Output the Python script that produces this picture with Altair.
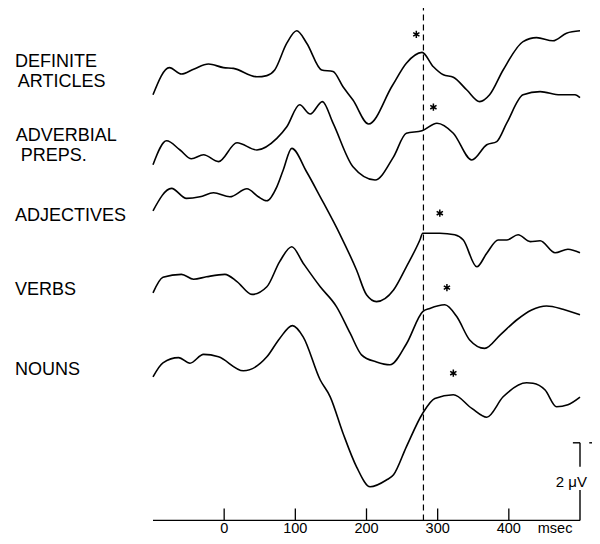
import altair as alt
import pandas as pd

# ---- waveform data (ms, microvolts incl. stacking offset) ----
t1_ms = [-100,-77,-60,-43,-22,-1,13,46,60,71,88,102,116,137,153,167,181,203,236,256,278,294,308,322,341,359,373,392,420,439,462,481,500]
t1_uv = [10.73,11.41,11.25,11.37,11.5,11.41,11.39,11.18,11.21,11.35,12.02,12.33,12.02,11.35,11.31,10.93,10.6,10.0,10.95,11.52,11.79,11.43,11.23,11.17,10.85,10.56,10.73,11.35,12.06,12.16,12.08,12.27,12.33]

t2_ms = [-100,-81,-62,-46,-29,-8,18,46,74,88,106,121,138,153,181,212,238,256,278,299,322,348,369,383,397,420,444,472,493,500]
t2_uv = [8.98,9.58,9.35,9.13,9.23,9.06,9.53,9.35,9.64,9.93,10.48,10.25,10.56,10.02,8.93,8.6,9.18,9.77,9.83,10.02,9.77,9.1,9.48,9.56,10.02,10.73,10.81,10.73,10.73,10.66]

t3_ms = [-100,-74,-53,-34,-15,8,32,48,60,74,83,95,116,135,163,186,200,214,238,256,275,279,303,324,336,355,369,385,397,413,430,444,465,483,500]
t3_uv = [7.83,8.39,8.14,8.18,8.28,8.18,8.38,8.18,8.08,8.43,8.85,9.39,8.8,8.18,7.23,6.35,5.73,5.56,5.85,6.43,7.1,7.27,7.27,7.23,7.1,6.43,6.77,7.1,7.1,7.23,7.06,7.08,6.78,6.87,6.78]

t4_ms = [-100,-86,-60,-43,-25,1,18,39,60,78,95,111,135,158,177,193,214,233,256,279,289,310,327,345,366,388,411,432,453,476,500]
t4_uv = [5.78,6.17,6.24,6.12,6.18,6.24,6.06,5.74,5.93,6.56,6.93,6.52,5.93,5.43,4.77,4.23,4.05,3.98,4.5,5.31,5.39,5.48,5.18,4.6,4.39,4.73,5.1,5.35,5.45,5.37,5.23]

t5_ms = [-100,-86,-64,-48,-29,-8,27,60,78,96,111,135,149,167,186,205,228,238,256,279,296,322,348,369,392,425,434,451,467,483,500]
t5_uv = [3.68,4.03,4.16,4.02,4.24,4.18,3.83,4.18,4.64,4.96,4.68,3.6,3.18,2.27,1.43,0.93,1.1,1.23,1.93,2.77,3.14,3.23,2.89,2.67,3.18,3.53,3.52,3.35,2.93,2.98,3.17]

trace_names = ["DEFINITE ARTICLES", "ADVERBIAL PREPS.", "ADJECTIVES", "VERBS", "NOUNS"]

# row labels (lines of text)
label_text = ["DEFINITE", "ARTICLES", "ADVERBIAL", "PREPS.", "ADJECTIVES", "VERBS", "NOUNS"]
label_ms = [-294, -290, -293, -286, -294, -294, -294]
label_uv = [11.54, 11.04, 9.70, 9.21, 7.71, 5.86, 3.86]

# asterisks
star_ms = [270, 294, 303, 313, 322]
star_uv = [12.24, 10.42, 7.77, 5.91, 3.77]

# time axis
tick_ms = [0, 100, 200, 300, 400]
tick_labels = ["0", "100", "200", "300", "400"]
axis_range = [-100, 500]
axis_uv = 0.09
tick_top_uv = 0.39
label_uv_pos = -0.2125
unit_label = "msec"
unit_ms = 465
dashed_ms = 280

# calibration bar (2 microvolts)
cal_ms = 500
cal_segments = [(axis_uv, 0.85), (1.43, 2.03)]
cal_top_tick = (490, 500, 2.03)
cal_side_tick = (513, 530, 2.03)
cal_text = "2 μV"
cal_text_ms = 466
cal_text_uv = 1.06

XDOM = [-100, 500]
YDOM = [0, 12.9]
FONT = "Liberation Sans"


def X(field):
    return alt.X(field, type="quantitative", scale=alt.Scale(domain=XDOM, nice=False, zero=False), axis=None)


def Y(field):
    return alt.Y(field, type="quantitative", scale=alt.Scale(domain=YDOM, nice=False, zero=False), axis=None)


rows = []
for name, ms, uv in zip(trace_names, [t1_ms, t2_ms, t3_ms, t4_ms, t5_ms], [t1_uv, t2_uv, t3_uv, t4_uv, t5_uv]):
    for a, b in zip(ms, uv):
        rows.append({"trace": name, "ms": a, "uv": b})
wave_df = pd.DataFrame(rows)

lines = alt.Chart(wave_df).mark_line(interpolate="monotone", color="black", strokeWidth=1.6).encode(
    x=X("ms"), y=Y("uv"), detail="trace:N"
)

labels = alt.Chart(pd.DataFrame({"t": label_text, "ms": label_ms, "uv": label_uv})).mark_text(
    align="left", baseline="middle", font=FONT, fontSize=18, color="black"
).encode(x=X("ms"), y=Y("uv"), text="t:N")

star_path = "M0,-1L0,1M-0.87,-0.5L0.87,0.5M-0.87,0.5L0.87,-0.5"
stars = alt.Chart(pd.DataFrame({"ms": star_ms, "uv": star_uv})).mark_point(
    shape=star_path, size=52, filled=False, color="black", strokeWidth=1.5, opacity=1
).encode(x=X("ms"), y=Y("uv"))

dashed = alt.Chart(pd.DataFrame({"ms": [dashed_ms], "y0": [axis_uv], "y1": [YDOM[1]]})).mark_rule(
    color="black", strokeWidth=1.2, strokeDash=[6, 4]
).encode(x=X("ms"), y=Y("y0"), y2="y1")

axis_line = alt.Chart(pd.DataFrame({"a": [axis_range[0]], "b": [axis_range[1]], "uv": [axis_uv]})).mark_rule(
    color="black", strokeWidth=1.3
).encode(x=X("a"), x2="b", y=Y("uv"))

ticks = alt.Chart(pd.DataFrame({"ms": tick_ms, "y0": [axis_uv] * 5, "y1": [tick_top_uv] * 5})).mark_rule(
    color="black", strokeWidth=1.3
).encode(x=X("ms"), y=Y("y0"), y2="y1")

tick_text = alt.Chart(pd.DataFrame({"ms": tick_ms + [unit_ms], "t": tick_labels + [unit_label], "uv": [label_uv_pos] * 6})).mark_text(
    align="center", baseline="alphabetic", font=FONT, fontSize=14.5, color="black"
).encode(x=X("ms"), y=Y("uv"), text="t:N")

cal_df = pd.DataFrame({
    "x0": [cal_ms, cal_ms, cal_top_tick[0], cal_side_tick[0]],
    "x1": [cal_ms, cal_ms, cal_top_tick[1], cal_side_tick[1]],
    "y0": [cal_segments[0][0], cal_segments[1][0], cal_top_tick[2], cal_side_tick[2]],
    "y1": [cal_segments[0][1], cal_segments[1][1], cal_top_tick[2], cal_side_tick[2]],
})
cal = alt.Chart(cal_df).mark_rule(color="black", strokeWidth=1.4).encode(
    x=X("x0"), x2="x1", y=Y("y0"), y2="y1"
)
cal_lbl = alt.Chart(pd.DataFrame({"ms": [cal_text_ms], "uv": [cal_text_uv], "t": [cal_text]})).mark_text(
    align="left", baseline="middle", font=FONT, fontSize=15, color="black"
).encode(x=X("ms"), y=Y("uv"), text="t:N")

chart = alt.layer(lines, labels, stars, dashed, axis_line, ticks, tick_text, cal, cal_lbl).properties(
    width=427, height=516,
    autosize="none",
    padding={"left": 145, "top": 0, "right": 12, "bottom": 12},
    background="white",
).configure_view(stroke=None)

chart.save("out.html", embed_options={"renderer": "svg", "actions": False})
